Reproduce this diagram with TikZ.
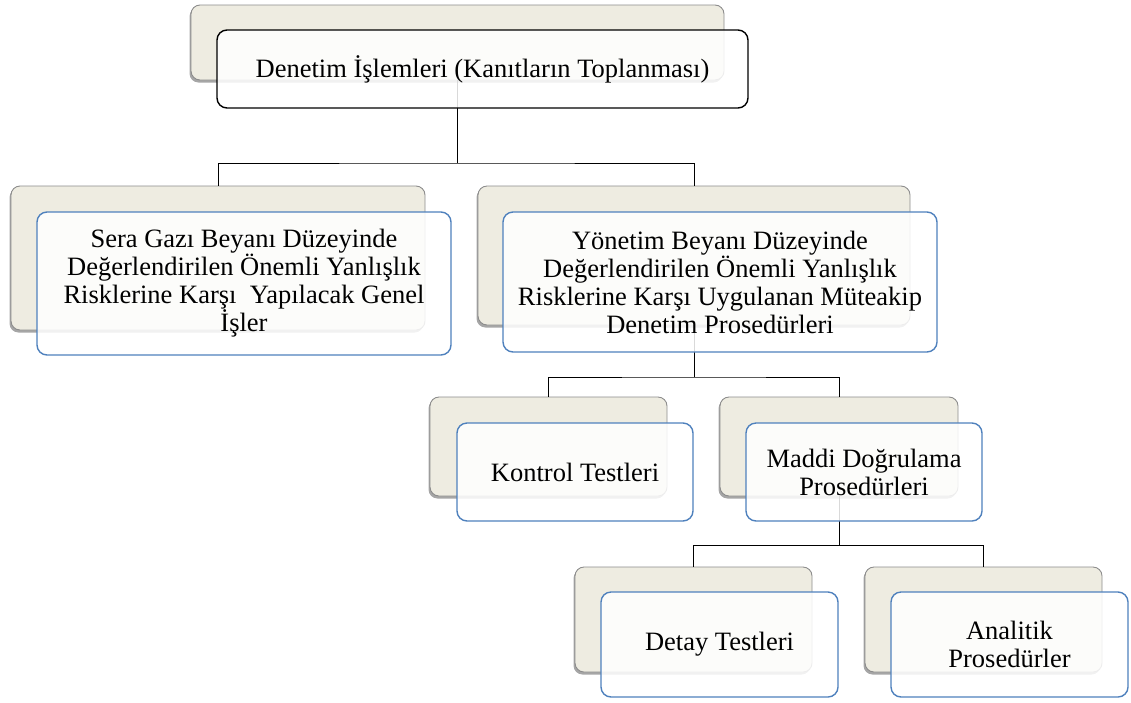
\documentclass[tikz,border=0pt]{standalone}
\usepackage{fontspec}
\setmainfont{Liberation Serif}
\usetikzlibrary{shadows}
\definecolor{tanfill}{HTML}{EEECE1}
\definecolor{tanline}{HTML}{8C8C8C}
\definecolor{bluebd}{HTML}{4F81BD}
\tikzset{
  backbox/.style={draw=tanline, line width=0.9pt, fill=tanfill, rounded corners=9pt, inner sep=0pt,
    drop shadow={shadow xshift=-1.5pt, shadow yshift=-2.5pt, fill=black, opacity=0.35}},
  frontbox/.style={draw=bluebd, line width=1.4pt, fill=white, fill opacity=0.85, text opacity=1,
    rounded corners=10pt, inner sep=0pt, align=center,
    font=\fontsize{26.5}{28}\selectfont},
  topfront/.style={frontbox, draw=black},
  conn/.style={draw=black, line width=0.9pt}
}
\begin{document}
\begin{tikzpicture}[x=1pt,y=-1pt]
\useasboundingbox (0,0) rectangle (1131,702);
% back boxes
\node[backbox, minimum width=533pt, minimum height=75pt] (b0) at (457.5,42.5) {};
\node[backbox, minimum width=414pt, minimum height=144pt] (bL) at (218,258) {};
\node[backbox, minimum width=432pt, minimum height=139pt] (bR) at (694,255.5) {};
\node[backbox, minimum width=237pt, minimum height=99pt] (bK) at (548.5,446.5) {};
\node[backbox, minimum width=238pt, minimum height=99pt] (bM) at (839,446.5) {};
\node[backbox, minimum width=237pt, minimum height=105pt] (bD) at (693.5,619.5) {};
\node[backbox, minimum width=237pt, minimum height=105pt] (bA) at (983.5,619.5) {};
% connectors
\coordinate (j0) at (457.5,163);
\coordinate (j1) at (694,377);
\coordinate (j2) at (839,545);
\draw[conn] (b0.south) -- (j0);
\draw[conn] (bL.north) |- (j0) -| (bR.north);
\draw[conn] (bR.south) -- (j1);
\draw[conn] (bK.north) |- (j1) -| (bM.north);
\draw[conn] (bM.south) -- (j2);
\draw[conn] (bD.north) |- (j2) -| (bA.north);
% front boxes
\node[topfront, minimum width=531pt, minimum height=78pt] (f0) at (482.5,69) {Denetim İşlemleri (Kanıtların Toplanması)};
\node[frontbox, minimum width=414pt, minimum height=143pt] (fL) at (244,283.5) {Sera Gazı Beyanı Düzeyinde\\Değerlendirilen Önemli Yanlışlık\\Risklerine Karşı\ \ Yapılacak Genel\\İşler};
\node[frontbox, minimum width=434pt, minimum height=140pt] (fR) at (720,282) {Yönetim Beyanı Düzeyinde\\Değerlendirilen Önemli Yanlışlık\\Risklerine Karşı Uygulanan Müteakip\\Denetim Prosedürleri};
\node[frontbox, minimum width=236pt, minimum height=98pt] (fK) at (575,472) {Kontrol Testleri};
\node[frontbox, minimum width=236pt, minimum height=98pt] (fM) at (864,472) {Maddi Doğrulama\\Prosedürleri};
\node[frontbox, minimum width=237pt, minimum height=105pt] (fD) at (719.5,644.5) {Detay Testleri};
\node[frontbox, minimum width=237pt, minimum height=105pt] (fA) at (1009.5,644.5) {Analitik\\Prosedürler};
\end{tikzpicture}
\end{document}
